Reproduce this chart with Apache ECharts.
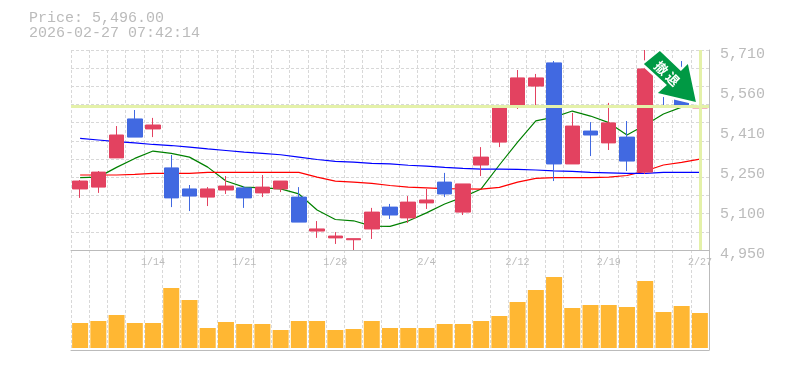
<!DOCTYPE html>
<html>
<head>
<meta charset="utf-8">
<title>chart</title>
<script src="https://cdn.jsdelivr.net/npm/echarts@6/dist/echarts.min.js"></script>
<style>
  html, body { margin: 0; padding: 0; background: #fff; }
  #container { width: 785px; height: 370px; }
</style>
</head>
<body>
<div id="container"></div>
<script>
  var priceText = 'Price: 5,496.00';
  var timeText = '2026-02-27 07:42:14';
  var currentPrice = 5496;
  var signalChars = ['撤', '退'];

  var dates = ['1/7','1/8','1/9','1/13','1/14','1/15','1/16','1/19','1/20','1/21','1/22','1/23','1/26','1/27','1/28','1/29','1/30','2/2','2/3','2/4','2/5','2/6','2/9','2/10','2/12','2/13','2/16','2/17','2/18','2/19','2/20','2/24','2/25','2/26','2/27'];
  var priceTicks = ['4,950','5,100','5,250','5,410','5,560','5,710'];

  // open, close, low, high
  var candles = [
    [5182,5212,5148,5216],[5189,5246,5167,5250],[5300,5387,5300,5421],[5448,5379,5379,5482],[5410,5425,5379,5452],
    [5262,5148,5113,5311],[5182,5155,5098,5197],[5151,5182,5117,5189],[5178,5193,5163,5231],[5186,5148,5110,5193],
    [5167,5189,5151,5235],[5182,5212,5170,5212],[5151,5056,5056,5189],[5022,5030,4996,5060],[4996,5003,4973,5018],
    [4989,4993,4950,4993],[5030,5094,4992,5110],[5113,5083,5068,5125],[5072,5132,5053,5155],[5129,5140,5106,5182],
    [5208,5163,5151,5243],[5094,5201,5083,5201],[5273,5303,5231,5341],[5360,5493,5341,5493],[5497,5604,5486,5634],
    [5573,5604,5497,5619],[5661,5277,5212,5668],[5277,5421,5277,5471],[5402,5387,5307,5436],[5357,5433,5330,5509],
    [5379,5288,5250,5440],[5246,5638,5239,5710],[5664,5626,5493,5691],[5634,5501,5501,5668],[5490,5497,5391,5547]
  ];
  var maShort = [5225,5227,5264,5298,5326,5317,5303,5265,5212,5189,5186,5182,5163,5102,5066,5061,5041,5040,5060,5091,5125,5151,5182,5273,5360,5441,5455,5478,5459,5434,5387,5425,5467,5493,5502];
  var maMiddle = [5235,5235,5235,5237,5241,5241,5241,5245,5245,5245,5245,5245,5245,5227,5212,5208,5203,5195,5189,5186,5183,5182,5181,5188,5208,5222,5225,5225,5225,5227,5233,5250,5273,5283,5295];
  var maLong = [5374,5368,5362,5357,5351,5347,5341,5334,5328,5322,5317,5312,5303,5294,5287,5284,5279,5277,5272,5269,5264,5260,5257,5257,5256,5254,5251,5249,5245,5243,5241,5241,5245,5245,5245];
  var volumes = [25,27,33,25,25,60,48,20,26,24,24,18,27,27,18,19,27,20,20,20,24,24,27,32,46,58,71,40,43,43,41,67,36,42,35];

  var grey = '#bbbbbb';
  var dash = '#d8d8d8';
  var mono = '"Liberation Mono", monospace';

  var myChart = echarts.init(document.getElementById('container'));

  function dashed() {
    return { show: true, lineStyle: { color: dash, width: 1, type: [3, 2] } };
  }

  var option = {
    animation: false,
    title: {
      text: priceText + '\n' + timeText,
      left: 29,
      top: 11,
      padding: 0,
      textStyle: { color: grey, fontFamily: mono, fontSize: 15, fontWeight: 'normal', lineHeight: 15 }
    },
    grid: [
      { left: 71, top: 50, width: 638, height: 200 },
      { left: 71, top: 250, width: 638, height: 100 }
    ],
    xAxis: [
      {
        type: 'category', gridIndex: 0, data: dates,
        axisLine: { lineStyle: { color: grey } },
        axisTick: { show: false },
        axisLabel: {
          color: grey, fontFamily: mono, fontSize: 10, margin: 7, hideOverlap: false,
          interval: function (i) { return i % 5 === 4; }
        },
        splitLine: { show: true, interval: 0, lineStyle: dashed().lineStyle }
      },
      {
        type: 'category', gridIndex: 1, data: dates,
        axisLine: { onZero: false, lineStyle: { color: grey } },
        axisTick: { show: false },
        axisLabel: { show: false },
        splitLine: { show: true, interval: 0, lineStyle: dashed().lineStyle }
      }
    ],
    yAxis: [
      { type: 'value', gridIndex: 0, min: 4950, max: 5710, scale: true, axisLine: { show: false }, axisTick: { show: false }, axisLabel: { show: false }, splitLine: { show: false } },
      // horizontal dashed rows
      { type: 'value', gridIndex: 0, min: 0, max: 11, interval: 1, axisLine: { show: false }, axisTick: { show: false }, axisLabel: { show: false }, splitLine: dashed() },
      // price labels on the right
      {
        type: 'value', gridIndex: 0, position: 'right', min: 0, max: 5, interval: 1,
        axisLine: { show: true, lineStyle: { color: grey } },
        axisTick: { show: false },
        splitLine: { show: false },
        axisLabel: {
          color: grey, fontFamily: mono, fontSize: 15, margin: 11, verticalAlign: 'top', lineHeight: 8,
          showMinLabel: true, showMaxLabel: true,
          formatter: function (v) { return priceTicks[v]; }
        }
      },
      {
        type: 'value', gridIndex: 1, position: 'right', min: -2, max: 98,
        axisLine: { show: true, lineStyle: { color: grey } },
        axisTick: { show: false }, axisLabel: { show: false }, splitLine: { show: false }
      }
    ],
    series: [
      {
        type: 'line', xAxisIndex: 0, yAxisIndex: 0, data: [], z: 1, silent: true,
        markLine: {
          silent: true, symbol: 'none', animation: false, label: { show: false },
          lineStyle: { color: '#e4f1a9', width: 3, type: 'solid' },
          data: [{ yAxis: currentPrice }, { xAxis: dates[dates.length - 1] }]
        }
      },
      { name: 'MA short', type: 'line', xAxisIndex: 0, yAxisIndex: 0, data: maShort, z: 2, symbol: 'none', lineStyle: { color: '#008000', width: 1.2 } },
      { name: 'MA middle', type: 'line', xAxisIndex: 0, yAxisIndex: 0, data: maMiddle, z: 2, symbol: 'none', lineStyle: { color: '#ff0000', width: 1.2 } },
      { name: 'MA long', type: 'line', xAxisIndex: 0, yAxisIndex: 0, data: maLong, z: 2, symbol: 'none', lineStyle: { color: '#0000ff', width: 1.2 } },
      {
        name: 'Price', type: 'candlestick', xAxisIndex: 0, yAxisIndex: 0, data: candles, z: 3, barWidth: 15,
        itemStyle: { color: '#e34260', color0: '#4169e1', borderColor: '#e34260', borderColor0: '#4169e1', borderWidth: 1 }
      },
      {
        name: 'Volume', type: 'bar', xAxisIndex: 1, yAxisIndex: 3, data: volumes, barWidth: 16,
        itemStyle: { color: '#ffb733' }
      }
    ]
  };
  myChart.setOption(option);

  // signal arrow, anchored on the last candle
  var last = dates.length - 1;
  var anchor = myChart.convertToPixel({ xAxisIndex: 0, yAxisIndex: 0 }, [last, candles[last][1]]);
  var tipX = anchor[0] - 4;
  var tipY = anchor[1] - 4;
  var arrowShape = [[-36,-51],[-15,-31],[-8,-38],[0,0],[-38,-9],[-29,-17],[-52,-38]];
  function signalChar(text, dx, dy) {
    return {
      type: 'text', x: tipX + dx, y: tipY + dy, rotation: -Math.PI / 4, z: 22,
      style: { text: text, fill: '#ffffff', font: 'bold 13px "Noto Sans CJK JP"', align: 'center', verticalAlign: 'middle' }
    };
  }
  myChart.setOption({
    graphic: [
      {
        type: 'polygon', x: tipX, y: tipY, z: 20,
        shape: { points: arrowShape },
        style: { fill: '#ffffff', stroke: '#ffffff', lineWidth: 5 }
      },
      {
        type: 'polygon', x: tipX, y: tipY, z: 21,
        shape: { points: arrowShape },
        style: { fill: '#009944' }
      },
      signalChar(signalChars[0], -34.5, -34),
      signalChar(signalChars[1], -23, -23)
    ]
  });
</script>
</body>
</html>
